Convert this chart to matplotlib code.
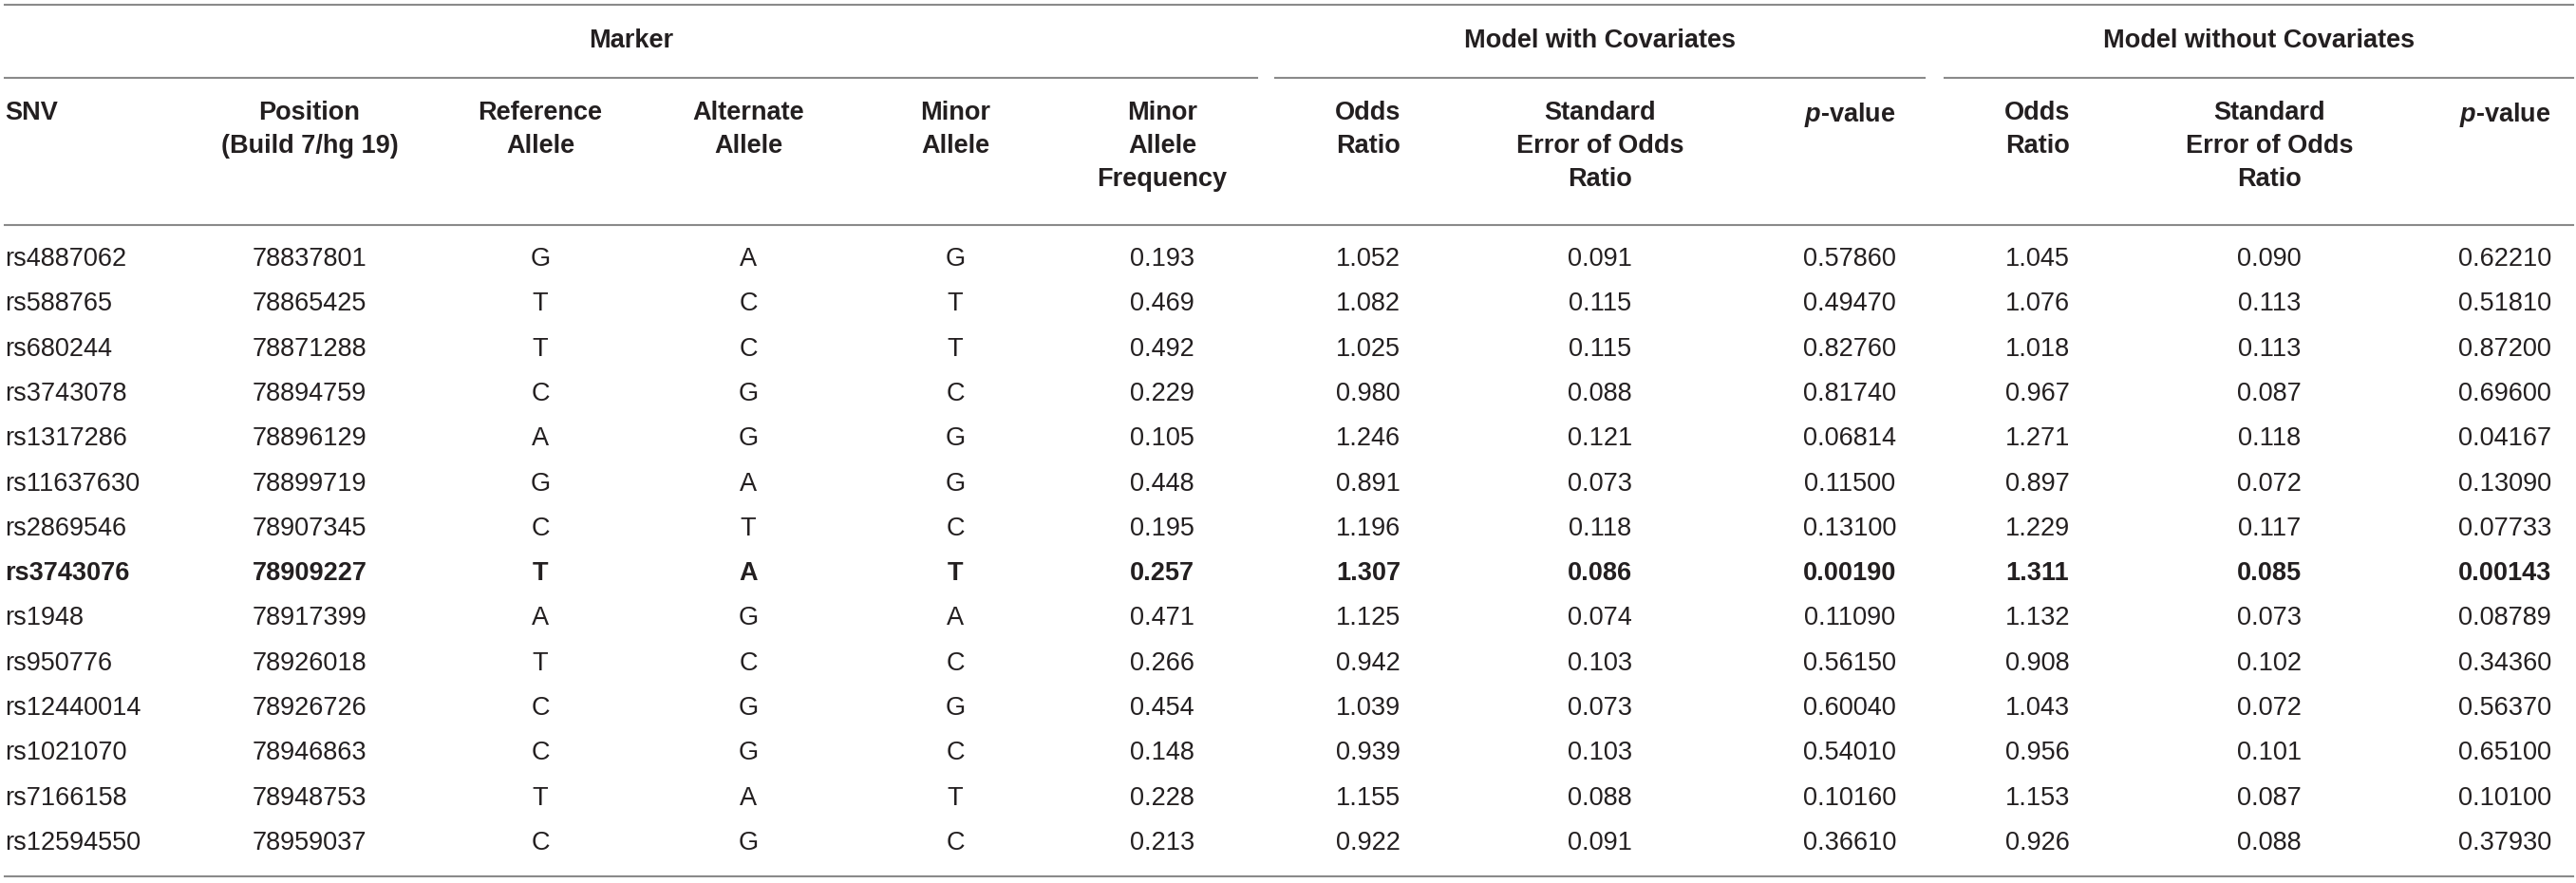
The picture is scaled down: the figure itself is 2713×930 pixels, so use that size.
import matplotlib.pyplot as plt

plt.rcParams['font.family'] = ['Liberation Sans', 'DejaVu Sans']
plt.rcParams['mathtext.fontset'] = 'custom'
plt.rcParams['mathtext.rm'] = 'Liberation Sans'
plt.rcParams['mathtext.it'] = 'Liberation Sans:italic'
plt.rcParams['mathtext.bf'] = 'Liberation Sans:bold'
plt.rcParams['mathtext.bfit'] = 'Liberation Sans:italic:bold'

# dados da tabela
snv = ['rs4887062', 'rs588765', 'rs680244', 'rs3743078', 'rs1317286', 'rs11637630',
       'rs2869546', 'rs3743076', 'rs1948', 'rs950776', 'rs12440014', 'rs1021070',
       'rs7166158', 'rs12594550']
position = [78837801, 78865425, 78871288, 78894759, 78896129, 78899719, 78907345,
            78909227, 78917399, 78926018, 78926726, 78946863, 78948753, 78959037]
ref_allele = ['G', 'T', 'T', 'C', 'A', 'G', 'C', 'T', 'A', 'T', 'C', 'C', 'T', 'C']
alt_allele = ['A', 'C', 'C', 'G', 'G', 'A', 'T', 'A', 'G', 'C', 'G', 'G', 'A', 'G']
minor_allele = ['G', 'T', 'T', 'C', 'G', 'G', 'C', 'T', 'A', 'C', 'G', 'C', 'T', 'C']
maf = [0.193, 0.469, 0.492, 0.229, 0.105, 0.448, 0.195, 0.257, 0.471, 0.266, 0.454,
       0.148, 0.228, 0.213]
or_cov = [1.052, 1.082, 1.025, 0.980, 1.246, 0.891, 1.196, 1.307, 1.125, 0.942, 1.039,
          0.939, 1.155, 0.922]
se_cov = [0.091, 0.115, 0.115, 0.088, 0.121, 0.073, 0.118, 0.086, 0.074, 0.103, 0.073,
          0.103, 0.088, 0.091]
p_cov = [0.57860, 0.49470, 0.82760, 0.81740, 0.06814, 0.11500, 0.13100, 0.00190,
         0.11090, 0.56150, 0.60040, 0.54010, 0.10160, 0.36610]
or_nocov = [1.045, 1.076, 1.018, 0.967, 1.271, 0.897, 1.229, 1.311, 1.132, 0.908, 1.043,
            0.956, 1.153, 0.926]
se_nocov = [0.090, 0.113, 0.113, 0.087, 0.118, 0.072, 0.117, 0.085, 0.073, 0.102, 0.072,
            0.101, 0.087, 0.088]
p_nocov = [0.62210, 0.51810, 0.87200, 0.69600, 0.04167, 0.13090, 0.07733, 0.00143,
           0.08789, 0.34360, 0.56370, 0.65100, 0.10100, 0.37930]
bold_row = 'rs3743076'

group_labels = ['Marker', 'Model with Covariates', 'Model without Covariates']
col_labels = ['SNV', 'Position\n(Build 7/hg 19)', 'Reference\nAllele', 'Alternate\nAllele',
              'Minor\nAllele', 'Minor\nAllele\nFrequency', 'Odds\nRatio',
              'Standard\nError of Odds\nRatio', r'$\mathbfit{p}$-value', 'Odds\nRatio',
              'Standard\nError of Odds\nRatio', r'$\mathbfit{p}$-value']

# layout (pixels)
W, H = 2713, 930
col_x = [5, 326, 569, 788, 1006, 1224, 1441, 1685, 1948, 2146, 2390, 2638]
group_span = [(5, 1324), (1343, 2027), (2048, 2710)]
row_y0, row_dy = 273, 47.3
FS = 19.5
TXT = '#231f20'
LINE = '#8a8a8a'

fig = plt.figure(figsize=(W / 100, H / 100), dpi=100)
ax = fig.add_axes([0, 0, 1, 1])
ax.set_xlim(0, W)
ax.set_ylim(H, 0)
ax.axis('off')

# linhas horizontais
ax.plot([5, 2710], [5, 5], color=LINE, lw=1.5)
for x0, x1 in group_span:
    ax.plot([x0, x1], [82, 82], color=LINE, lw=1.5)
ax.plot([5, 2710], [237, 237], color=LINE, lw=1.5)
ax.plot([5, 2710], [923, 923], color=LINE, lw=1.5)

# cabeçalhos de grupo
for (x0, x1), lab in zip(group_span, group_labels):
    ax.text((x0 + x1) / 2, 43, lab, ha='center', va='center', fontsize=FS,
            fontweight='bold', color=TXT)

# cabeçalhos de coluna
for j, (x, lab) in enumerate(zip(col_x, col_labels)):
    ax.text(x, 106, lab, ha='left' if j == 0 else 'center', va='top',
            fontsize=FS, fontweight='bold', color=TXT, linespacing=1.45,
            multialignment='center')

# linhas de dados
for i in range(len(snv)):
    y = row_y0 + i * row_dy
    vals = [snv[i], str(position[i]), ref_allele[i], alt_allele[i], minor_allele[i],
            f'{maf[i]:.3f}', f'{or_cov[i]:.3f}', f'{se_cov[i]:.3f}', f'{p_cov[i]:.5f}',
            f'{or_nocov[i]:.3f}', f'{se_nocov[i]:.3f}', f'{p_nocov[i]:.5f}']
    wt = 'bold' if snv[i] == bold_row else 'normal'
    for j, (x, v) in enumerate(zip(col_x, vals)):
        ax.text(x, y, v, ha='left' if j == 0 else 'center', va='center',
                fontsize=FS, fontweight=wt, color=TXT)

fig.savefig('out.png', dpi=100)
